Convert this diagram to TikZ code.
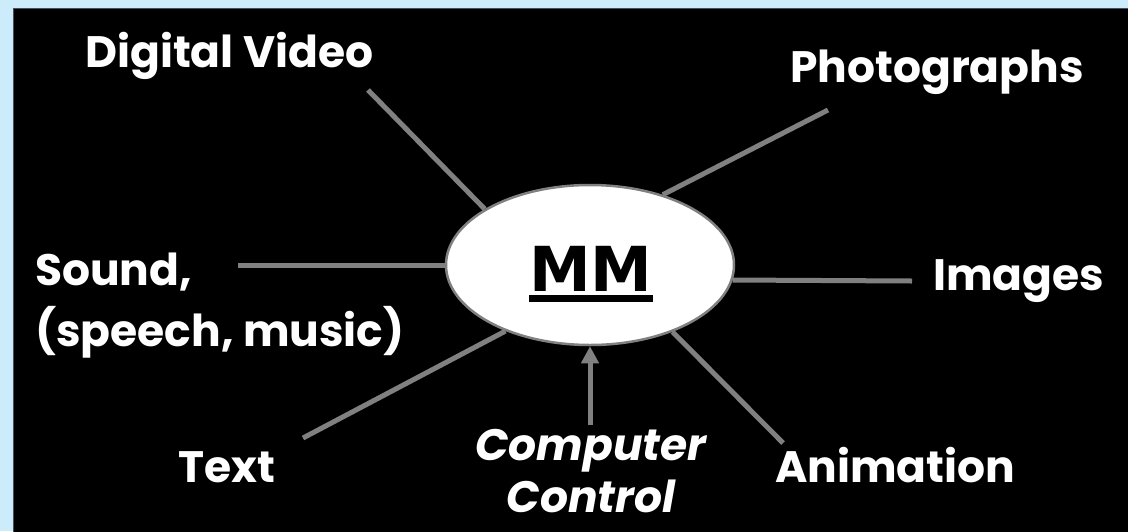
\documentclass[tikz,border=0pt]{standalone}
\usepackage{fontspec}
\setmainfont{Poppins}
\newfontfamily\mmfont{DejaVu Sans}
\usetikzlibrary{shapes.geometric,arrows.meta}
\definecolor{bgblue}{RGB}{204,236,252}
\definecolor{linegray}{RGB}{128,128,128}
\definecolor{frameedge}{RGB}{70,80,90}
\tikzset{
  lbl/.style={text=white, inner sep=0pt, font=\fontsize{44}{61}\selectfont\bfseries},
  conn/.style={draw=linegray, line width=5pt},
  hub/.style={ellipse, draw=linegray, line width=2.5pt, fill=white, minimum width=288pt, minimum height=160pt, inner sep=0pt}
}
\begin{document}
\begin{tikzpicture}[x=1pt,y=-1pt]
\useasboundingbox (0,0) rectangle (1128,531);
\fill[bgblue] (0,0) rectangle (1128,531);
\filldraw[fill=black, draw=frameedge, line width=1pt] (13,8) rectangle (1130,533);

\node[hub] (mm) at (590,265) {};
\node[anchor=base, inner sep=0pt, font=\mmfont\bfseries\fontsize{62}{70}\selectfont] (mmlabel) at (591,291)
  {\vtop{\hbox{MM}\kern4pt\hrule height 6.5pt depth 0pt}};

\node[lbl, anchor=base west] (dv) at (85,67) {Digital Video};
\node[lbl, anchor=base west] (ph) at (790,82) {Photographs};
\node[lbl, anchor=base west, align=left] (snd) at (35,346) {Sound,\\(speech, music)};
\node[lbl, anchor=base west] (img) at (933,290) {Images};
\node[lbl, anchor=base west] (txt) at (178,482) {Text};
\node[lbl, anchor=base west] (ani) at (775,482) {Animation};
\node[lbl, anchor=base, align=center, font=\fontsize{44}{52}\selectfont\bfseries\itshape] (cc) at (591,512) {Computer\\Control};

\coordinate (dvE) at (368,90);
\coordinate (phE) at (828,110);
\coordinate (sndE) at (238,265);
\coordinate (imgE) at (912,281);
\coordinate (txtE) at (303,438);
\coordinate (aniE) at (783,443);
\coordinate (ccE) at (590,425);

\draw[conn] (dvE) -- (mm.152.7);
\draw[conn] (phE) -- (mm.44.5);
\draw[conn] (sndE) -- (mm.180);
\draw[conn] (imgE) -- (mm.-6.4);
\draw[conn] (txtE) -- (mm.218.4);
\draw[conn] (aniE) -- (mm.-39.2);
\draw[conn, -{Triangle[width=17pt,length=17pt]}] (ccE) -- (mm.south);
\end{tikzpicture}
\end{document}
